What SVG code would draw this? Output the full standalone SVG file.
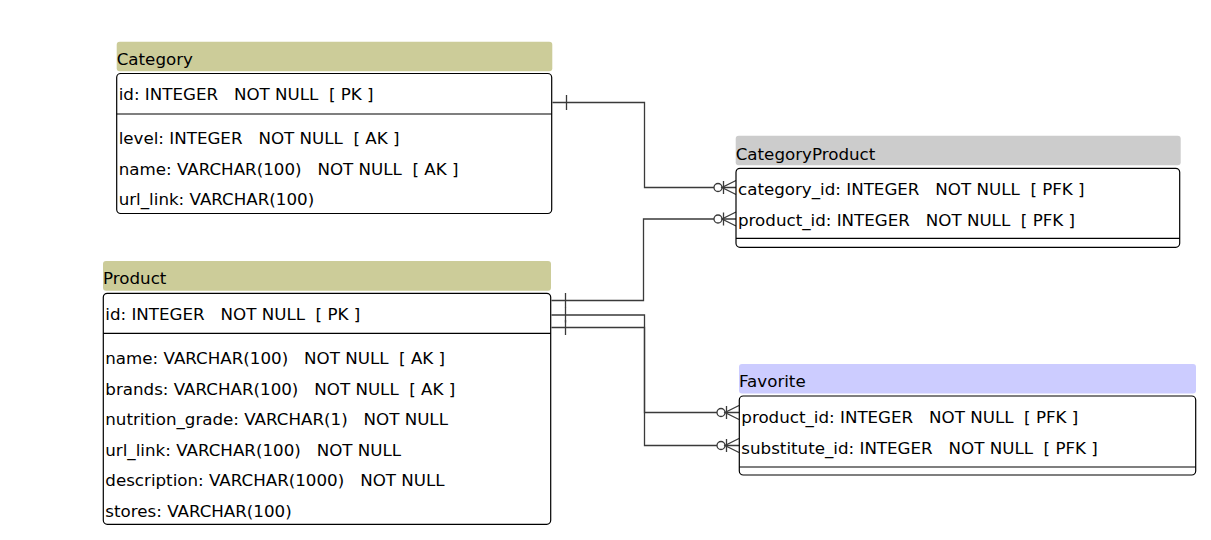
<svg xmlns="http://www.w3.org/2000/svg" width="1211" height="540" viewBox="0 0 1211 540">
<style>
  text { font-family: "DejaVu Sans", "Liberation Sans", sans-serif; font-size: 16.7px; fill: #000; white-space: pre; }
  .body { fill: #fff; stroke: #000; stroke-width: 1.2; }
  .div { stroke: #000; stroke-width: 1.2; }
  .hdr-olive { fill: #cccc99; }
  .hdr-gray { fill: #cccccc; }
  .hdr-blue { fill: #ccccff; }
  .conn { fill: none; stroke: #3a3a3a; stroke-width: 1.3; }
  .mk { fill: #fff; stroke: #3a3a3a; stroke-width: 1.3; }
</style>
<defs>
  <marker id="one" viewBox="0 -8 20 16" refX="0" refY="0" markerWidth="20" markerHeight="16" markerUnits="userSpaceOnUse" orient="auto" overflow="visible">
    <line class="mk" x1="14" y1="-7.5" x2="14" y2="7.5"/>
  </marker>
  <marker id="many" viewBox="-24 -8 26 16" refX="0" refY="0" markerWidth="26" markerHeight="16" markerUnits="userSpaceOnUse" orient="auto" overflow="visible">
    <circle class="mk" cx="-18" cy="0" r="4"/>
    <line class="mk" x1="-12.5" y1="-6.5" x2="-12.5" y2="6.5"/>
    <polyline class="mk" style="fill:none" points="0,-7 -14,0 0,7"/>
  </marker>
</defs>

<g id="connectors">
  <path class="conn" d="M552.5,102.5 H644.5 V187.5 H736" marker-start="url(#one)" marker-end="url(#many)"/>
  <path class="conn" d="M551.5,300.5 H643.5 V219 H736" marker-start="url(#one)" marker-end="url(#many)"/>
  <path class="conn" d="M551.5,315 H644.5 V412.5 H739" marker-start="url(#one)" marker-end="url(#many)"/>
  <path class="conn" d="M551.5,327.5 H644.5 V445.5 H739" marker-start="url(#one)" marker-end="url(#many)"/>
</g>

<g id="Category">
  <rect class="hdr-olive" x="116.7" y="41.7" width="435.6" height="29.5" rx="3"/>
  <text x="116.7" y="65">Category</text>
  <rect class="body" x="116.7" y="73.5" width="435" height="140" rx="4"/>
  <line class="div" x1="116.7" y1="114" x2="551.7" y2="114"/>
  <text x="118.7" y="100">id: INTEGER   NOT NULL  [ PK ]</text>
  <text x="118.7" y="144">level: INTEGER   NOT NULL  [ AK ]</text>
  <text x="118.7" y="174.5">name: VARCHAR(100)   NOT NULL  [ AK ]</text>
  <text x="118.7" y="205">url_link: VARCHAR(100)</text>
</g>

<g id="Product">
  <rect class="hdr-olive" x="103" y="261" width="448" height="29.7" rx="3"/>
  <text x="103" y="284.3">Product</text>
  <rect class="body" x="103.3" y="293.3" width="447.4" height="231" rx="4"/>
  <line class="div" x1="103.3" y1="333.3" x2="550.7" y2="333.3"/>
  <text x="105.3" y="320">id: INTEGER   NOT NULL  [ PK ]</text>
  <text x="105.3" y="364">name: VARCHAR(100)   NOT NULL  [ AK ]</text>
  <text x="105.3" y="394.5">brands: VARCHAR(100)   NOT NULL  [ AK ]</text>
  <text x="105.3" y="425">nutrition_grade: VARCHAR(1)   NOT NULL</text>
  <text x="105.3" y="455.5">url_link: VARCHAR(100)   NOT NULL</text>
  <text x="105.3" y="486">description: VARCHAR(1000)   NOT NULL</text>
  <text x="105.3" y="516.5">stores: VARCHAR(100)</text>
</g>

<g id="CategoryProduct">
  <rect class="hdr-gray" x="735.7" y="135.7" width="445" height="29.5" rx="3"/>
  <text x="735.7" y="160">CategoryProduct</text>
  <rect class="body" x="736" y="168.3" width="443.7" height="79" rx="4"/>
  <line class="div" x1="736" y1="238.3" x2="1179.7" y2="238.3"/>
  <text x="738" y="195">category_id: INTEGER   NOT NULL  [ PFK ]</text>
  <text x="738" y="225.5">product_id: INTEGER   NOT NULL  [ PFK ]</text>
</g>

<g id="Favorite">
  <rect class="hdr-blue" x="739" y="364" width="457" height="29.5" rx="3"/>
  <text x="739" y="387.3">Favorite</text>
  <rect class="body" x="739.3" y="396" width="456.4" height="79" rx="4"/>
  <line class="div" x1="739.3" y1="467" x2="1195.7" y2="467"/>
  <text x="741.3" y="423">product_id: INTEGER   NOT NULL  [ PFK ]</text>
  <text x="741.3" y="453.5">substitute_id: INTEGER   NOT NULL  [ PFK ]</text>
</g>
</svg>
